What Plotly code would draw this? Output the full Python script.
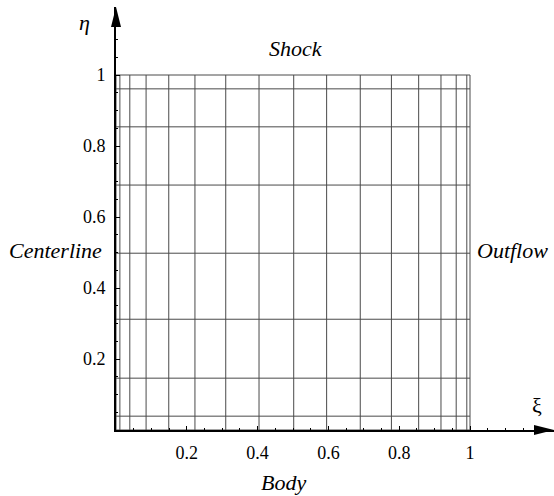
import plotly.graph_objects as go

# grid coordinates
xi_lines = [0.0, 0.011, 0.039, 0.085, 0.149, 0.223, 0.310, 0.404, 0.502,
            0.595, 0.690, 0.778, 0.855, 0.918, 0.961, 0.991, 1.0]
eta_lines = [0.0, 0.039, 0.146, 0.312, 0.498, 0.690, 0.854, 0.961, 1.0]
tick_vals = [0.2, 0.4, 0.6, 0.8, 1.0]
tick_text = ["0.2", "0.4", "0.6", "0.8", "1"]

W, H = 554, 496
L, R, T, B = 116, 0, 7, 66
PW, PH = W - L - R, H - T - B
XMAX = PW / 354.0
YMAX = PH / 355.0

def px(x):
    return (x - L) / PW

def py(y):
    return (H - B - y) / PH

GRID = "#4a4a4a"
fig = go.Figure()
for x in xi_lines:
    fig.add_trace(go.Scatter(x=[x, x], y=[0, 1], mode="lines",
                             line=dict(color=GRID, width=1), hoverinfo="skip",
                             showlegend=False))
for y in eta_lines:
    fig.add_trace(go.Scatter(x=[0, 1], y=[y, y], mode="lines",
                             line=dict(color=GRID, width=1), hoverinfo="skip",
                             showlegend=False))

font = dict(family="Liberation Serif", color="black")

fig.update_layout(
    width=W, height=H,
    margin=dict(l=L, r=R, t=T, b=B),
    paper_bgcolor="white", plot_bgcolor="white",
    showlegend=False,
    font=font,
    xaxis=dict(range=[0, XMAX], showgrid=False, zeroline=False,
               showline=True, linecolor="black", linewidth=2,
               ticks="inside", ticklen=4, tickcolor="black",
               tickvals=tick_vals, ticktext=tick_text,
               ticklabelstandoff=5,
               minor=dict(ticks="inside", ticklen=2, dtick=0.05, tickcolor="black"),
               tickfont=dict(size=18, **font)),
    yaxis=dict(range=[0, YMAX], showgrid=False, zeroline=False,
               showline=True, linecolor="black", linewidth=2,
               ticks="inside", ticklen=4, tickcolor="black",
               tickvals=tick_vals, ticktext=tick_text,
               ticklabelstandoff=5,
               minor=dict(ticks="inside", ticklen=2, dtick=0.05, tickcolor="black"),
               tickfont=dict(size=18, **font)),
)

# arrow heads
x_tip, y_ax = W, H - B
fig.add_shape(type="path", xref="paper", yref="paper",
              path=f"M {px(x_tip)} {py(y_ax)} L {px(x_tip-20)} {py(y_ax-5)} L {px(x_tip-20)} {py(y_ax+5)} Z",
              fillcolor="black", line=dict(color="black", width=0))
fig.add_shape(type="path", xref="paper", yref="paper",
              path=f"M {px(L)} {py(T)} L {px(L-5)} {py(T+20)} L {px(L+5)} {py(T+20)} Z",
              fillcolor="black", line=dict(color="black", width=0))

labels = [
    ("Shock", 296, 48, True),
    ("Body", 283, 482, True),
    ("Centerline", 55, 250, True),
    ("Outflow", 512, 250, True),
    ("η", 84, 22, True),
    ("ξ", 537, 405, False),
]
for txt, x, y, it in labels:
    t = f"<i>{txt}</i>" if it else txt
    fig.add_annotation(text=t, x=px(x), y=py(y), xref="paper", yref="paper",
                       showarrow=False, xanchor="center", yanchor="middle",
                       font=dict(size=22, **font))

fig.write_html("out.html")
